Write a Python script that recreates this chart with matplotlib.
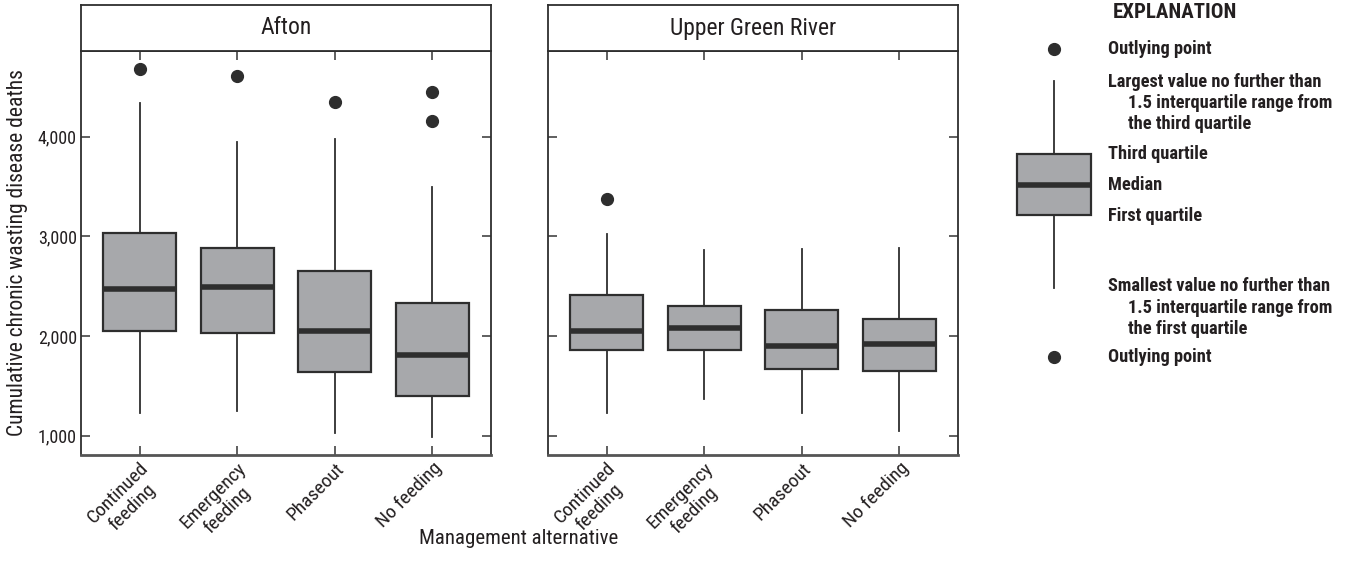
import matplotlib
matplotlib.use("Agg")
import matplotlib.pyplot as plt

plt.rcParams['font.family'] = ['Roboto Condensed', 'DejaVu Sans']

categories = ["Continued\nfeeding", "Emergency\nfeeding", "Phaseout", "No feeding"]
regions = ["Afton", "Upper Green River"]

afton_whislo = [1231, 1251, 1023, 990]
afton_q1 = [2053, 2027, 1636, 1398]
afton_med = [2468, 2488, 2053, 1809]
afton_q3 = [3030, 2880, 2655, 2334]
afton_whishi = [4334, 3949, 3973, 3497]
afton_fliers = [[4675], [4608], [4347], [4444, 4153]]

ugr_whislo = [1231, 1368, 1231, 1047]
ugr_q1 = [1860, 1860, 1672, 1649]
ugr_med = [2050, 2080, 1897, 1920]
ugr_q3 = [2414, 2298, 2264, 2171]
ugr_whishi = [3020, 2863, 2870, 2880]
ugr_fliers = [[3374], [], [], []]

yticks = [1000, 2000, 3000, 4000]
ytick_labels = ["1,000", "2,000", "3,000", "4,000"]

DARK = "#2e2e2e"
FILL = "#a7a8ab"
TXT = "#231f20"

W, H = 1348, 562
fig = plt.figure(figsize=(W / 100, H / 100), dpi=100)


def stats_for(wlo, q1, med, q3, whi, fl):
    return [dict(whislo=a, q1=b, med=c, q3=d, whishi=e, fliers=f)
            for a, b, c, d, e, f in zip(wlo, q1, med, q3, whi, fl)]


panels = [
    stats_for(afton_whislo, afton_q1, afton_med, afton_q3, afton_whishi, afton_fliers),
    stats_for(ugr_whislo, ugr_q1, ugr_med, ugr_q3, ugr_whishi, ugr_fliers),
]

lefts = [81, 548]
pw = 410
top_px, bot_px, strip_top = 51, 455, 5

box_style = dict(
    patch_artist=True, showcaps=False,
    boxprops=dict(facecolor=FILL, edgecolor=DARK, linewidth=1.6),
    medianprops=dict(color=DARK, linewidth=4.0, solid_capstyle='butt'),
    whiskerprops=dict(color=DARK, linewidth=1.3),
    flierprops=dict(marker='o', markerfacecolor=DARK, markeredgecolor=DARK, markersize=8.5),
)

for i, (lx, stats) in enumerate(zip(lefts, panels)):
    ax = fig.add_axes([lx / W, 1 - bot_px / H, pw / W, (bot_px - top_px) / H])
    ax.bxp(stats, positions=range(len(categories)), widths=0.75, **box_style)
    ax.set_xlim(-0.6, 3.6)
    ax.set_ylim(806, 4859)
    ax.set_yticks(yticks)
    ax.set_xticks(range(len(categories)))
    ax.tick_params(direction='in', length=6.5, width=1.2, color="#444444",
                   top=True, right=True, labelsize=13, pad=3, labelcolor=TXT)
    if i == 0:
        ax.set_yticklabels(ytick_labels)
    else:
        ax.set_yticklabels([])
    ax.set_xticklabels(categories, rotation=45, ha='right', rotation_mode='anchor',
                       fontsize=14, linespacing=1.15, ma='center')
    for s in ax.spines.values():
        s.set_color(DARK)
        s.set_linewidth(1.3)
    ax.spines['bottom'].set_color("#555555")
    ax.spines['bottom'].set_linewidth(2)
    # strip
    sax = fig.add_axes([lx / W, 1 - top_px / H, pw / W, (top_px - strip_top) / H])
    sax.set_xticks([])
    sax.set_yticks([])
    for s in sax.spines.values():
        s.set_color(DARK)
        s.set_linewidth(1.3)
    sax.text(0.5, 0.5, regions[i], ha='center', va='center', fontsize=17,
             color=TXT, transform=sax.transAxes)

fig.text(18 / W, 1 - 253 / H, "Cumulative chronic wasting disease deaths",
         rotation=90, ha='center', va='center', fontsize=15.5, color=TXT)
fig.text(519 / W, 1 - 538 / H, "Management alternative", ha='center', va='center',
         fontsize=15, color=TXT)

# Explanation
lax = fig.add_axes([980 / W, 0, 368 / W, 1])
lax.axis('off')
lax.bxp([dict(whislo=288, q1=215, med=185, q3=154, whishi=81, fliers=[49, 357])],
        positions=[1054], widths=74, **box_style)
lax.set_xlim(980, 1348)
lax.set_ylim(562, 0)

tk = dict(fontsize=13.2, fontweight='bold', color=TXT, va='center', ha='left')
lax.text(1113, 13, "EXPLANATION", fontsize=15, fontweight='bold', color=TXT,
         va='center', ha='left')
lax.text(1108, 49, "Outlying point", **tk)
lax.text(1108, 82, "Largest value no further than", **tk)
lax.text(1128, 103, "1.5 interquartile range from", **tk)
lax.text(1128, 124, "the third quartile", **tk)
lax.text(1108, 154, "Third quartile", **tk)
lax.text(1108, 185, "Median", **tk)
lax.text(1108, 216, "First quartile", **tk)
lax.text(1108, 286, "Smallest value no further than", **tk)
lax.text(1128, 308, "1.5 interquartile range from", **tk)
lax.text(1128, 329, "the first quartile", **tk)
lax.text(1108, 357, "Outlying point", **tk)

fig.savefig("out.png", dpi=100)
